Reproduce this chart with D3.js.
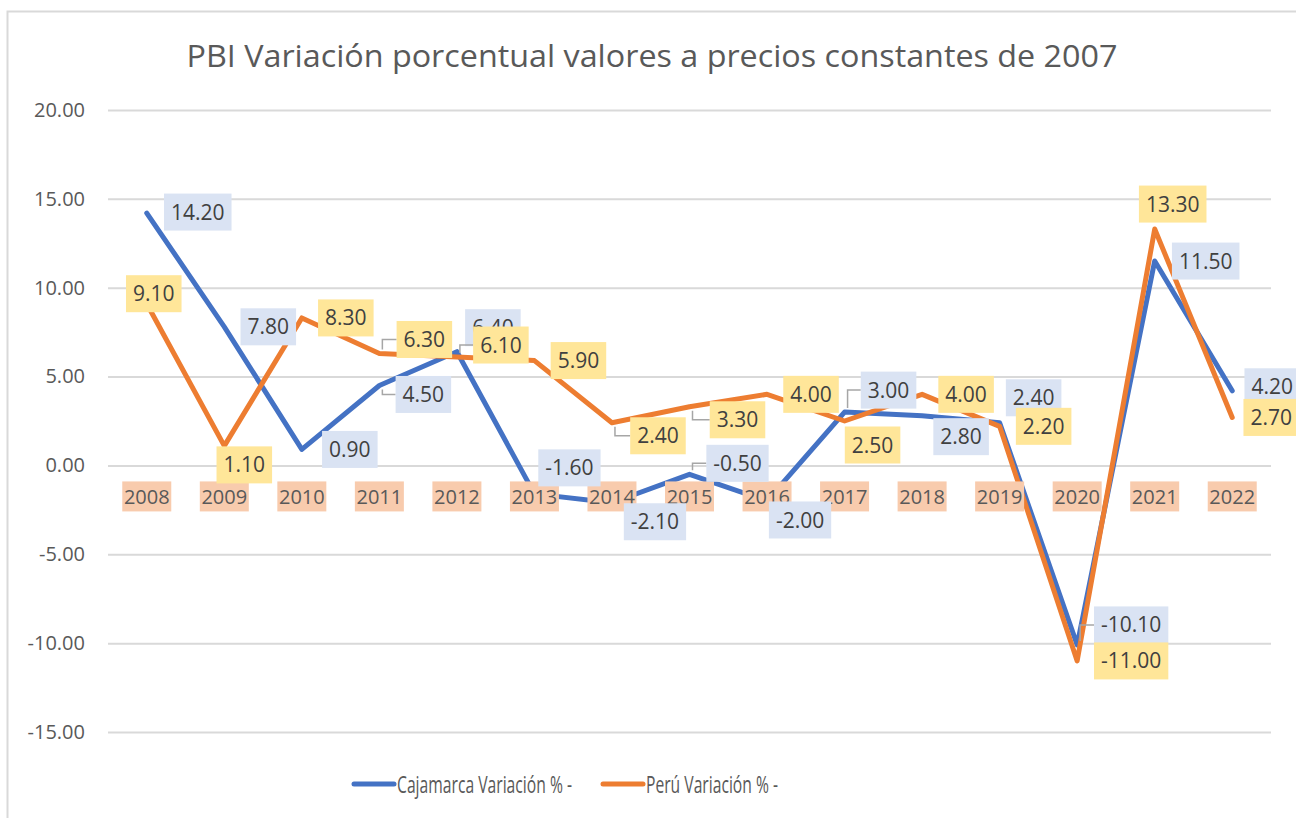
<!DOCTYPE html>
<html>
<head>
<meta charset="utf-8">
<script src="https://cdn.jsdelivr.net/npm/d3@7"></script>
<style>
  body { margin: 0; background: #fff; }
  svg { display: block; font-family: "Open Sans", sans-serif; }
</style>
</head>
<body>
<script>
const years = ["2008","2009","2010","2011","2012","2013","2014","2015","2016","2017","2018","2019","2020","2021","2022"];
const cajamarca = [14.2, 7.8, 0.9, 4.5, 6.4, -1.6, -2.1, -0.5, -2.0, 3.0, 2.8, 2.4, -10.1, 11.5, 4.2];
const peru = [9.1, 1.1, 8.3, 6.3, 6.1, 5.9, 2.4, 3.3, 4.0, 2.5, 4.0, 2.2, -11.0, 13.3, 2.7];
const yTicks = [-15, -10, -5, 0, 5, 10, 15, 20];

// label placement (box centre relative to point), leader flag
const cajLabelPos = [[51,-1],[44,0],[48,0],[44,9,1],[36,-24],[35,-26],[43,19],[48,-11,1],[33,19],[44,-22,1],[39,21],[34,-25],[54,-20,1],[51,0],[40,-4]];
const peruLabelPos = [[7,-10],[20,19],[44,0],[45,-14,1],[44,-12,1],[44,0],[46,13,1],[48,13,1],[44,0],[28,24],[44,0],[44,0],[54,0],[18,-25],[39,0]];

const fmt = d => d.toFixed(2);  // plain hyphen minus, like Excel

const width = 1296, height = 818;
const svg = d3.select("body").append("svg")
    .attr("width", width)
    .attr("height", height);

svg.append("rect")
    .attr("x", 7.5).attr("y", 11.5)
    .attr("width", width).attr("height", height)
    .attr("fill", "#fff")
    .attr("stroke", "#d9d9d9")
    .attr("stroke-width", 2);

const x = d3.scaleBand().domain(years).range([108, 1271]);
const y = d3.scaleLinear().domain([-15, 20]).range([732, 110]);
const cx = d => x(d) + x.bandwidth() / 2;

svg.append("text")
    .attr("x", 652).attr("y", 67)
    .attr("text-anchor", "middle")
    .attr("fill", "#595959")
    .attr("font-size", 31)
    .attr("textLength", 931)
    .attr("lengthAdjust", "spacingAndGlyphs")
    .text("PBI Variación porcentual valores a precios constantes de 2007");

// gridlines + y labels
const yAxis = svg.append("g")
    .attr("transform", "translate(108,0)")
    .call(d3.axisLeft(y).tickValues(yTicks).tickSize(-(1271 - 108)).tickPadding(23).tickFormat(fmt));
yAxis.select(".domain").remove();
yAxis.selectAll(".tick line").attr("stroke", "#d9d9d9").attr("stroke-width", 2);
yAxis.selectAll(".tick text")
    .attr("fill", "#595959")
    .attr("font-size", 20)
    .attr("font-family", "Open Sans, sans-serif");

const line = d3.line()
    .x((d, i) => cx(years[i]))
    .y(d => y(d));

const series = [
  {name: "Cajamarca Variación % -", values: cajamarca, color: "#4472C4", box: "#DAE3F3", pos: cajLabelPos},
  {name: "Perú Variación % -", values: peru, color: "#ED7D31", box: "#FFE699", pos: peruLabelPos}
];

svg.selectAll("path.series")
  .data(series)
  .enter().append("path")
    .attr("class", "series")
    .attr("d", d => line(d.values))
    .attr("fill", "none")
    .attr("stroke", d => d.color)
    .attr("stroke-width", 5)
    .attr("stroke-linejoin", "round")
    .attr("stroke-linecap", "round");

// category labels sitting under the zero line
const cat = svg.append("g").selectAll("g")
  .data(years)
  .enter().append("g")
    .attr("transform", d => `translate(${cx(d)},${y(0) + 31})`);
cat.append("rect")
    .attr("x", -24.5).attr("y", -15)
    .attr("width", 49).attr("height", 30)
    .attr("fill", "#F8CBAD");
cat.append("text")
    .attr("text-anchor", "middle")
    .attr("dy", "0.36em")
    .attr("font-size", 20)
    .attr("fill", "#595959")
    .text(d => d);

// data labels
series.forEach(s => {
  const g = svg.append("g");
  s.values.forEach((v, i) => {
    const px = cx(years[i]), py = y(v);
    const [dx, dy, leader] = s.pos[i];
    const bx = px + dx, by = py + dy;
    const lab = g.append("g");
    const t = lab.append("text")
        .attr("x", bx).attr("y", by)
        .attr("text-anchor", "middle")
        .attr("dy", "0.36em")
        .attr("font-size", 21)
        .attr("fill", "#404040")
        .text(fmt(v));
    const w = t.node().getComputedTextLength() + 14;
    const h = 37;
    if (leader) {
      const edge = bx - w / 2;
      lab.insert("path", "text")
          .attr("d", `M${px + 3},${py + (by > py ? 4 : -4)}V${by}H${edge}`)
          .attr("fill", "none")
          .attr("stroke", "#a6a6a6")
          .attr("stroke-width", 1.5);
    }
    lab.insert("rect", "text")
        .attr("x", bx - w / 2).attr("y", by - h / 2)
        .attr("width", w).attr("height", h)
        .attr("fill", s.box);
  });
});

// legend
const legendX = [354, 603];
const legendW = [175, 132];
const leg = svg.append("g").selectAll("g")
  .data(series)
  .enter().append("g")
    .attr("transform", (d, i) => `translate(${legendX[i]},784)`);
leg.append("line")
    .attr("x1", 0).attr("x2", 40)
    .attr("stroke", d => d.color)
    .attr("stroke-width", 5)
    .attr("stroke-linecap", "round");
leg.append("text")
    .attr("x", 43).attr("y", 0)
    .attr("dy", "0.36em")
    .attr("font-size", 24)
    .attr("fill", "#595959")
    .attr("textLength", (d, i) => legendW[i])
    .attr("lengthAdjust", "spacingAndGlyphs")
    .text(d => d.name);
</script>
</body>
</html>
